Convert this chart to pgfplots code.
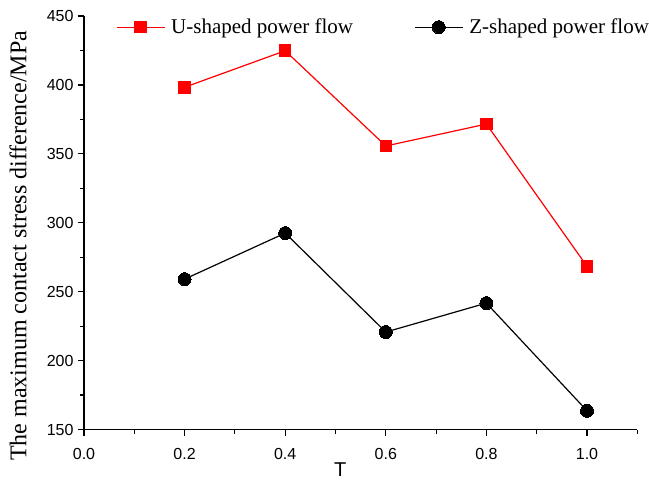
\documentclass[border=0pt]{standalone}
\usepackage{fontspec}
\setmainfont{Liberation Serif}
\newfontfamily\arial{Liberation Sans}
\usepackage{pgfplots}
\pgfplotsset{compat=1.18}
\begin{document}
\begin{tikzpicture}[x=1pt,y=1pt]
\begin{axis}[
  scale only axis,
  width=553.3pt, height=413.5pt,
  xmin=0, xmax=1.1, ymin=150, ymax=450,
  axis lines*=left,
  axis line style={line width=1.2pt, -},
  xtick={0,0.2,0.4,0.6,0.8,1.0},
  minor xtick={0.1,0.3,0.5,0.7,0.9,1.1},
  ytick={150,200,250,300,350,400,450},
  minor ytick={175,225,275,325,375,425},
  tick align=outside,
  major tick length=6pt, minor tick length=4pt,
  tick style={line width=1.2pt, black},
  xticklabel style={/pgf/number format/fixed, /pgf/number format/fixed zerofill, /pgf/number format/precision=1},
  /pgf/number format/assume math mode=true,
  ticklabel style={font=\arial\fontsize{16}{16}\selectfont},
  xticklabel style={yshift=-9pt},
  yticklabel style={xshift=-1pt},
  scaled ticks=false,
  xlabel={T},
  xlabel style={font=\arial\fontsize{20}{20}\selectfont, at={(axis description cs:0.463,0)}, anchor=center, yshift=-40pt},
  ylabel={The maximum contact stress difference/MPa},
  ylabel style={font=\fontsize{24}{24}\selectfont, at={(axis description cs:-0.1193,0.444)}, anchor=center},
  legend style={at={(axis description cs:0.0575,0.973)}, anchor=west, draw=none, fill=none, inner sep=0pt,
    font=\fontsize{21}{21}\selectfont, /tikz/every even column/.append style={column sep=59pt}},
  legend columns=2,
  legend image code/.code={\draw[mark repeat=2,mark phase=2] plot coordinates {(0pt,0pt) (24pt,0pt) (48pt,0pt)};\path (52pt,0pt);},
  clip=false,
]
\addplot[color=red, line width=1.2pt, mark=square*, mark size=5.75pt, mark options={fill=red, draw=red, line width=0pt}]
  coordinates {(0.2,398.3) (0.4,424.8) (0.6,355.7) (0.8,371.6) (1.0,268.4)};
\addlegendentry{U-shaped power flow}
\addplot[color=black, line width=1.2pt, mark=*, mark size=6.5pt, mark options={fill=black, line width=0pt}]
  coordinates {(0.2,259.1) (0.4,292.5) (0.6,220.7) (0.8,241.7) (1.0,163.6)};
\addlegendentry{Z-shaped power flow}
\end{axis}
\pgfresetboundingbox
\path (-84pt,-53.5pt) rectangle (565pt,429.5pt);
\end{tikzpicture}
\end{document}
